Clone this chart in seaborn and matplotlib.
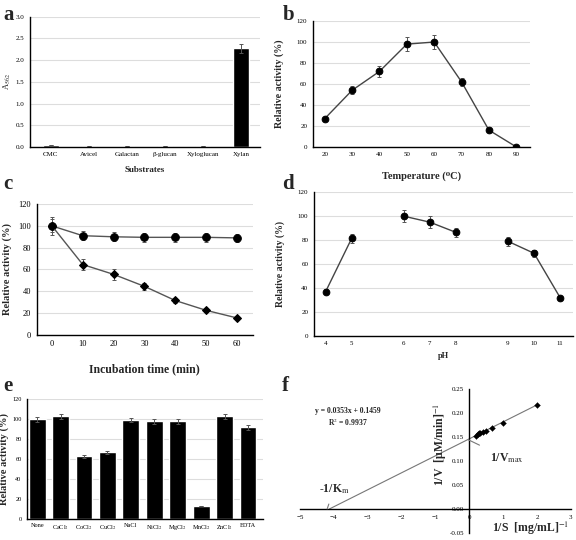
import numpy as np
import pandas as pd
import seaborn as sns
import matplotlib.pyplot as plt

# ---- data ----
# a: substrate specificity
substrates = ['CMC', 'Avicel', 'Galactan', 'β-glucan', 'Xyloglucan', 'Xylan']
a562 = [0.05, 0.01, 0.03, 0.01, 0.01, 2.27]
a562_err = [0.0, 0.0, 0.0, 0.0, 0.0, 0.10]

# b: temperature
temps = [20, 30, 40, 50, 60, 70, 80, 90]
temp_act = [27, 54, 72, 98, 100, 62, 16, 0]
temp_err = [1, 4, 5, 7, 7, 4, 1, 0]

# c: thermostability
times = [0, 10, 20, 30, 40, 50, 60]
stab_a = [100, 91, 90, 89.5, 89.5, 89.5, 89]
stab_a_err = [6, 4, 4, 4, 4, 4, 4]
stab_b = [100, 64.5, 55.5, 44.5, 31.5, 22.5, 15.5]
stab_b_err = [8, 5, 5, 3.5, 2, 1.5, 1]

# d: pH (three buffer groups)
ph_groups = [[4, 5], [6, 7, 8], [9, 10, 11]]
ph_act = [[37, 81.5], [100, 95, 86.5], [79, 69, 32]]
ph_err = [[2, 4], [5, 5, 4], [4, 3, 1]]
ph_ticks = [4, 5, 6, 7, 8, 9, 10, 11]
ph_pos = [0, 1, 3, 4, 5, 7, 8, 9]

# e: metal ions
ions = ['None', 'CaCl$_2$', 'CoCl$_2$', 'CuCl$_2$', 'NaCl', 'NiCl$_2$',
        'MgCl$_2$', 'MnCl$_2$', 'ZnCl$_2$', 'EDTA']
ion_act = [100, 103, 63, 67, 99, 98, 98, 13, 103, 92]
ion_err = [2.5, 2.5, 1.5, 1.5, 2, 2.5, 2.5, 0, 2.5, 2.5]

# f: Lineweaver-Burk
inv_s = [0.2, 0.25, 0.29, 0.33, 0.4, 0.5, 0.67, 1.0, 2.0]
inv_v = [0.152, 0.155, 0.157, 0.159, 0.161, 0.163, 0.169, 0.179, 0.217]
slope, intercept = 0.0353, 0.1459

sns.set_style("white")
plt.rcParams['font.family'] = ['Liberation Serif', 'DejaVu Serif']
plt.rcParams['mathtext.fontset'] = 'stix'

fig = plt.figure(figsize=(5.76, 5.4), dpi=100)

ERR = dict(fmt='none', ecolor='#555555', elinewidth=0.7, capsize=1.5,
           capthick=0.7, zorder=1)


def style_ax(ax, ymax, ystep, fmt='{:.0f}'):
    ax.set_ylim(0, ymax)
    yt = np.arange(0, ymax + ystep / 2, ystep)
    ax.set_yticks(yt)
    ax.set_yticklabels([fmt.format(v) for v in yt])
    ax.yaxis.grid(True, color='#dddddd', lw=0.8)
    ax.set_axisbelow(True)
    for s in ['top', 'right']:
        ax.spines[s].set_visible(False)
    for s in ['left', 'bottom']:
        ax.spines[s].set_color('black')
        ax.spines[s].set_linewidth(1.0)
    ax.tick_params(axis='both', labelsize=5, length=2, width=0.6,
                   colors='black', pad=2)
    ax.tick_params(axis='x', length=0, pad=4)


# ---- a ----
ax = fig.add_axes([0.052, 0.728, 0.40, 0.241])
sns.barplot(x=substrates, y=a562, color='black', width=0.42, ax=ax,
            saturation=1)
ax.errorbar(range(len(substrates)), a562, yerr=a562_err, **ERR)
style_ax(ax, 3.0, 0.5, '{:.1f}')
ax.set_xlim(-0.55, 5.5)
ax.set_ylabel('A$_{562}$', fontsize=6, labelpad=2)
ax.set_xlabel('Substrates', fontsize=6.5, fontweight='bold', labelpad=6)

# ---- b ----
ax = fig.add_axes([0.543, 0.728, 0.377, 0.233])
xb = np.arange(len(temps))
sns.lineplot(x=xb, y=temp_act, color='#444444', lw=1, ax=ax, zorder=2,
             marker='o', markersize=4.8, markerfacecolor='black',
             markeredgecolor='black')
ax.errorbar(xb, temp_act, yerr=temp_err, **ERR)
style_ax(ax, 120, 20)
ax.set_xticks(xb)
ax.set_xticklabels(temps)
ax.set_xlim(-0.44, 7.5)
ax.set_ylabel('Relative activity (%)', fontsize=7.2, fontweight='bold', labelpad=9)
ax.set_xlabel('Temperature (⁰C)', fontsize=7.5, fontweight='bold', labelpad=10)

# ---- c ----
ax = fig.add_axes([0.064, 0.380, 0.375, 0.242])
xc = np.arange(len(times))
sns.lineplot(x=xc, y=stab_a, color='#555555', lw=1, ax=ax, zorder=2,
             marker='o', markersize=5.5, markerfacecolor='black',
             markeredgecolor='black')
sns.lineplot(x=xc, y=stab_b, color='#555555', lw=1, ax=ax, zorder=2,
             marker='D', markersize=3.8, markerfacecolor='black',
             markeredgecolor='black')
ax.errorbar(xc, stab_a, yerr=stab_a_err, **ERR)
ax.errorbar(xc, stab_b, yerr=stab_b_err, **ERR)
style_ax(ax, 120, 20)
ax.tick_params(axis='both', labelsize=6)
ax.set_xticks(xc)
ax.set_xticklabels(times)
ax.set_xlim(-0.49, 6.52)
ax.set_ylabel('Relative activity (%)', fontsize=7.5, fontweight='bold', labelpad=5)
ax.set_xlabel('Incubation time (min)', fontsize=8.5, fontweight='bold', labelpad=11)

# ---- d ----
ax = fig.add_axes([0.545, 0.378, 0.45, 0.266])
i = 0
for grp, act, err in zip(ph_groups, ph_act, ph_err):
    pos = ph_pos[i:i + len(grp)]
    i += len(grp)
    sns.lineplot(x=pos, y=act, color='#444444', lw=1, ax=ax, zorder=2,
                 marker='o', markersize=4.8, markerfacecolor='black',
                 markeredgecolor='black')
    ax.errorbar(pos, act, yerr=err, **ERR)
style_ax(ax, 120, 20)
ax.set_xticks(ph_pos)
ax.set_xticklabels(ph_ticks)
ax.set_xlim(-0.45, 9.5)
ax.set_ylabel('Relative activity (%)', fontsize=7, fontweight='bold', labelpad=9)
ax.set_xlabel('pH', fontsize=6, fontweight='bold', labelpad=4)

# ---- e ----
ax = fig.add_axes([0.047, 0.039, 0.41, 0.222])
sns.barplot(x=list(range(len(ions))), y=ion_act, color='black', width=0.72,
            ax=ax, saturation=1)
ax.errorbar(range(len(ions)), ion_act, yerr=ion_err,
            **{**ERR, 'capsize': 1.2})
style_ax(ax, 120, 20)
ax.tick_params(axis='y', labelsize=4.5)
ax.set_xticks(range(len(ions)))
ax.set_xticklabels(ions)
ax.tick_params(axis='x', labelsize=4.5, pad=3)
ax.set_xlim(-0.43, 9.65)
ax.set_ylabel('Relative activity (%)', fontsize=7.5, fontweight='bold', labelpad=2)

# ---- f ----
ax = fig.add_axes([0.521, 0.013, 0.47, 0.267])
ax.set_xlim(-5, 3)
ax.set_ylim(-0.05, 0.25)
xfit = np.array([-intercept / slope, max(inv_s)])
ax.plot(xfit, slope * xfit + intercept, color='#777777', lw=0.8)
sns.scatterplot(x=inv_s, y=inv_v, marker='D', s=9, color='black',
                edgecolor='black', ax=ax, zorder=3)
for s in ['top', 'right']:
    ax.spines[s].set_visible(False)
ax.spines['left'].set_position(('data', 0))
ax.spines['bottom'].set_position(('data', 0))
for s in ['left', 'bottom']:
    ax.spines[s].set_color('black')
    ax.spines[s].set_linewidth(1.0)
ax.set_xticks(range(-5, 4))
ax.set_yticks(np.arange(-0.05, 0.26, 0.05))
ax.set_yticklabels([f'{v:.2f}' for v in np.arange(-0.05, 0.26, 0.05)])
ax.tick_params(axis='both', labelsize=5, length=2, width=0.6, colors='black', pad=2)
ax.text(-3.6, 0.19, 'y = 0.0353x + 0.1459\nR$^2$ = 0.9937', fontsize=5.5,
        fontweight='bold', ha='center', va='center', linespacing=1.2)
ax.annotate('1/V$_{\\mathrm{max}}$', xy=(-0.03, 0.144), xytext=(0.62, 0.105),
            fontsize=8.5, fontweight='bold', va='center',
            arrowprops=dict(arrowstyle='-', color='#777777', lw=0.8,
                            shrinkA=6, shrinkB=0))
ax.annotate('-1/K$_{\\mathrm{m}}$', xy=(-4.2, 0.0), xytext=(-4.45, 0.042),
            fontsize=8.5, fontweight='bold', va='center',
            arrowprops=dict(arrowstyle='-', color='#777777', lw=0.8,
                            shrinkA=4, shrinkB=0))
ax.text(-0.85, 0.135, '1/V  [μM/min]$^{-1}$', rotation=90, fontsize=8.5,
        fontweight='bold', ha='center', va='center')
ax.text(2.95, -0.041, '1/S  [mg/mL]$^{-1}$', fontsize=8.5, fontweight='bold',
        ha='right', va='center')

# panel letters
for lab, (x, y) in zip('abcdef', [(0.005, 0.972), (0.49, 0.972), (0.005, 0.66),
                                   (0.49, 0.66), (0.005, 0.285), (0.49, 0.285)]):
    fig.text(x, y, lab, fontsize=15, fontweight='bold', va='center')

fig.savefig('out.png', dpi=100)
